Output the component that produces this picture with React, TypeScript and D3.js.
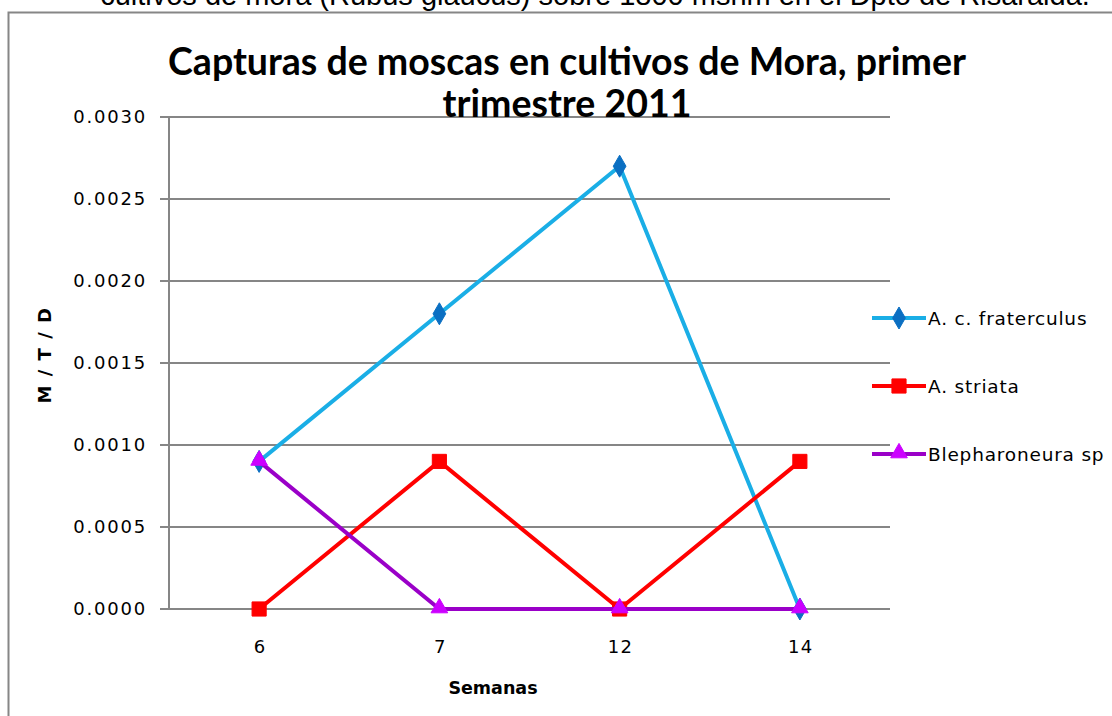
import React from "react";
import * as d3 from "d3";

const weeks = ["6", "7", "12", "14"];
const fraterculus = [0.0009, 0.0018, 0.0027, 0.0];
const striata = [0.0, 0.0009, 0.0, 0.0009];
const blepharoneura = [0.0009, 0.0, 0.0, 0.0];
const yTicks = [0, 0.0005, 0.001, 0.0015, 0.002, 0.0025, 0.003];
const seriesNames = ["A. c. fraterculus", "A. striata", "Blepharoneura sp"];
const titleLines = ["Capturas de moscas en cultivos de Mora, primer", "trimestre 2011"];
const caption = "cultivos de mora (Rubus glaucus) sobre 1800 msnm en el Dpto de Risaralda.";

const W = 1112;
const H = 716;
const left = 169;
const right = 890;
const top = 117;
const bottom = 609;

const GRID = "#868686";

type Marker = "diamond" | "square" | "triangle";

function markerPath(kind: Marker): string {
  if (kind === "diamond") return d3.symbol(d3.symbolDiamond, 140)() as string;
  if (kind === "square") return d3.symbol(d3.symbolSquare, 200)() as string;
  return d3.symbol(d3.symbolTriangle, 120)() as string;
}

export default function App() {
  const x = d3.scalePoint<string>().domain(weeks).range([left, right]).padding(0.5);
  const y = d3.scaleLinear().domain([0, 0.003]).range([bottom, top]);
  const line = d3
    .line<number>()
    .x((_, i) => x(weeks[i]) as number)
    .y((d) => y(d));

  const series = [
    { name: seriesNames[0], values: fraterculus, line: "#1AAEE6", fill: "#0B6FC2", marker: "diamond" as Marker },
    { name: seriesNames[1], values: striata, line: "#FF0000", fill: "#FF0000", marker: "square" as Marker },
    { name: seriesNames[2], values: blepharoneura, line: "#9A00C8", fill: "#CC00FF", marker: "triangle" as Marker },
  ];
  const legendY = [318, 386, 454];

  return (
    <svg
      width={W}
      height={H}
      style={{ position: "absolute", left: 0, top: 0, background: "#fff" }}
    >
      <text
        x={595}
        y={5}
        textAnchor="middle"
        fontFamily="Liberation Sans, Arial, sans-serif"
        fontSize={29}
        fill="#000"
      >
        {caption}
      </text>
      <rect x={8.5} y={12.5} width={1200} height={800} fill="none" stroke={GRID} strokeWidth={2} />

      {/* gridlines */}
      {yTicks.map((t) => (
        <line key={t} x1={160} x2={right} y1={y(t)} y2={y(t)} stroke={GRID} strokeWidth={2} />
      ))}
      <line x1={left} x2={left} y1={top} y2={bottom} stroke={GRID} strokeWidth={2} />

      {/* y tick labels */}
      {yTicks.map((t) => (
        <text
          key={"l" + t}
          x={147}
          y={y(t)}
          dy="0.36em"
          textAnchor="end"
          fontFamily="DejaVu Sans, Verdana, sans-serif"
          fontSize={18}
          letterSpacing={1.8}
          fill="#000"
        >
          {d3.format(".4f")(t)}
        </text>
      ))}

      {/* x tick labels */}
      {weeks.map((w) => (
        <text
          key={"x" + w}
          x={(x(w) as number) + 1}
          y={647}
          dy="0.36em"
          textAnchor="middle"
          fontFamily="DejaVu Sans, Verdana, sans-serif"
          fontSize={18}
          letterSpacing={1.4}
          fill="#000"
        >
          {w}
        </text>
      ))}

      {/* axis titles */}
      <text
        x={493}
        y={688}
        dy="0.36em"
        textAnchor="middle"
        fontFamily="DejaVu Sans, Verdana, sans-serif"
        fontWeight="bold"
        fontSize={17.5}
        fill="#000"
      >
        Semanas
      </text>
      <text
        transform="translate(45,355) rotate(-90)"
        dy="0.36em"
        textAnchor="middle"
        fontFamily="DejaVu Sans, Verdana, sans-serif"
        fontWeight="bold"
        fontSize={18}
        letterSpacing={1.5}
        fill="#000"
      >
        M / T / D
      </text>

      {/* series */}
      {series.map((s) => (
        <g key={s.name}>
          <path d={line(s.values) as string} fill="none" stroke={s.line} strokeWidth={4} />
          {s.values.map((v, i) => (
            <path
              key={i}
              d={markerPath(s.marker)}
              transform={`translate(${x(weeks[i])},${y(v) + (s.marker === "triangle" ? -1 : 0)})`}
              fill={s.fill}
              stroke={s.fill}
              strokeWidth={1}
            />
          ))}
        </g>
      ))}

      {/* title */}
      {titleLines.map((t, i) => (
        <text
          key={t}
          x={567}
          y={75 + i * 42}
          textAnchor="middle"
          fontFamily="Lato, Open Sans, sans-serif"
          fontWeight="bold"
          fontSize={37.5}
          fill="#000"
        >
          {t}
        </text>
      ))}

      {/* legend */}
      {series.map((s, i) => (
        <g key={"lg" + s.name} transform={`translate(0,${legendY[i]})`}>
          <line x1={872} x2={926} y1={0} y2={0} stroke={s.line} strokeWidth={4} />
          <path d={markerPath(s.marker)} transform={`translate(899,${s.marker === "triangle" ? -1 : 0})`} fill={s.fill} stroke={s.fill} />
          <text
            x={928}
            y={0}
            dy="0.36em"
            fontFamily="DejaVu Sans, Verdana, sans-serif"
            fontSize={18.5}
            letterSpacing={0.8}
            fill="#000"
          >
            {s.name}
          </text>
        </g>
      ))}
    </svg>
  );
}
